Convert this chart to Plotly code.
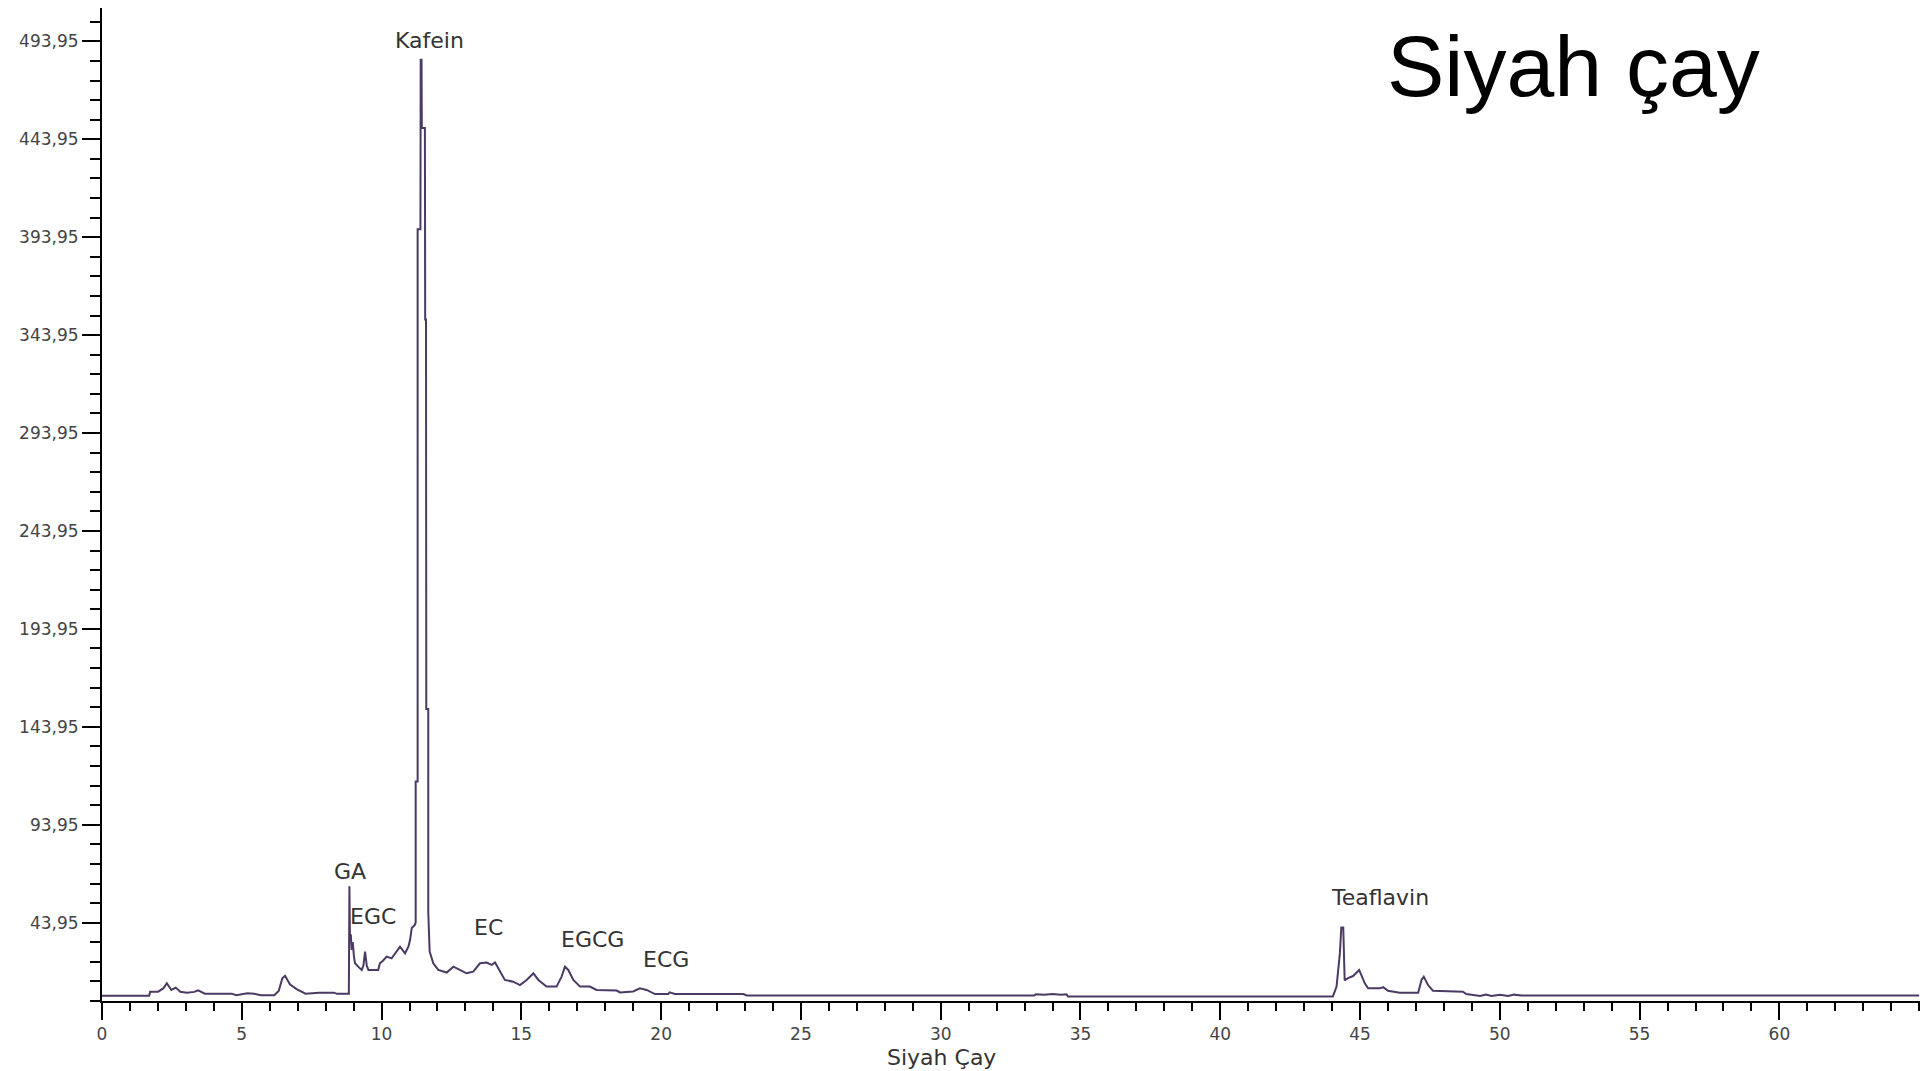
import plotly.graph_objects as go

# Retention time (min) and detector response
time_min = [
    0.0, 1.69, 1.72, 2.01, 2.20, 2.32, 2.48, 2.64, 2.80, 3.04, 3.30, 3.44, 3.68, 4.64, 4.80,
    5.05, 5.20, 5.44, 5.68, 6.16, 6.32, 6.45, 6.55, 6.72, 6.96, 7.28, 7.50, 7.76, 8.30, 8.40,
    8.83, 8.85, 8.87, 8.90, 8.93, 8.97, 9.01, 9.05, 9.20, 9.29, 9.35, 9.41, 9.47, 9.53, 9.88,
    9.94, 10.05, 10.18, 10.36, 10.50, 10.66, 10.84, 10.96, 11.02, 11.08, 11.19, 11.22, 11.22,
    11.29, 11.29, 11.39, 11.40, 11.43, 11.44, 11.55, 11.56, 11.59, 11.60, 11.67, 11.67, 11.69,
    11.72, 11.85, 12.03, 12.33, 12.57, 12.80, 13.04, 13.28, 13.52, 13.76, 13.94, 14.06, 14.23,
    14.41, 14.71, 14.95, 15.19, 15.43, 15.61, 15.90, 16.26, 16.44, 16.56, 16.68, 16.86, 17.10,
    17.45, 17.69, 18.41, 18.53, 19.00, 19.24, 19.48, 19.78, 20.25, 20.31, 20.49, 22.94, 23.06,
    33.35, 33.40, 33.70, 34.00, 34.30, 34.50, 34.55, 44.03, 44.16, 44.28, 44.33, 44.40, 44.45,
    44.57, 44.75, 44.97, 45.17, 45.29, 45.70, 45.83, 46.00, 46.42, 47.08, 47.20, 47.28, 47.43,
    47.61, 48.68, 48.80, 49.30, 49.50, 49.70, 50.00, 50.30, 50.50, 50.77, 65.0,
]
response = [
    6.6, 6.6, 8.7, 8.7, 10.5, 13.0, 9.6, 10.8, 8.7, 8.2, 8.6, 9.4, 7.7, 7.7, 6.9,
    7.3, 7.9, 7.7, 6.9, 6.9, 9.1, 15.5, 16.8, 12.5, 10.0, 7.7, 7.9, 8.2, 8.2, 7.6,
    7.6, 62.5, 35.2, 38.0, 30.0, 34.0, 27.0, 23.2, 21.0, 19.8, 22.0, 29.2, 22.0, 19.8, 19.8,
    23.2, 24.5, 26.6, 25.7, 28.5, 31.7, 28.3, 31.7, 35.2, 41.2, 42.8, 44.0, 116.0,
    116.0, 398.0, 398.0, 484.6, 484.6, 449.7, 449.7, 352.0, 352.0, 153.0, 153.0, 49.6, 40.0,
    29.2, 23.2, 19.8, 18.5, 21.5, 19.8, 18.1, 18.9, 23.2, 23.6, 22.4, 23.6, 18.9,
    14.7, 13.8, 12.1, 14.7, 18.1, 14.7, 11.3, 11.3, 16.4, 21.5, 19.8, 14.7, 11.3,
    11.3, 9.6, 9.3, 8.3, 8.8, 10.4, 9.6, 7.5, 7.5, 8.4, 7.5, 7.5, 6.8,
    6.8, 7.4, 7.1, 7.5, 7.1, 7.4, 6.3, 6.3, 11.3, 28.5, 41.5, 41.5, 14.5,
    15.6, 16.7, 19.8, 13.0, 10.4, 10.4, 11.0, 9.2, 8.2, 8.2, 14.7, 16.4, 12.1,
    9.2, 8.7, 7.5, 6.5, 7.3, 6.5, 7.2, 6.5, 7.2, 6.7, 6.7,
]

# Peak labels and their label anchor positions (time, response)
peak_names = ["GA", "EGC", "Kafein", "EC", "EGCG", "ECG", "Teaflavin"]
peak_label_t = [8.87, 9.69, 11.73, 13.84, 17.56, 20.17, 45.71]
peak_label_v = [70.0, 46.9, 494.5, 41.3, 35.2, 24.9, 56.7]

x_tick_vals = [0, 5, 10, 15, 20, 25, 30, 35, 40, 45, 50, 55, 60]
y_tick_vals = [43.95, 93.95, 143.95, 193.95, 243.95, 293.95, 343.95, 393.95, 443.95, 493.95]

title_text = "Siyah çay"
x_title_text = "Siyah Çay"

fig = go.Figure()
fig.add_trace(go.Scatter(
    x=time_min, y=response, mode="lines",
    line=dict(color="#4b3a63", width=2),
    hoverinfo="x+y", showlegend=False,
))

tick_font = dict(family="DejaVu Sans", size=17, color="#444444")

fig.update_layout(
    width=1920, height=1071,
    margin=dict(l=102, r=0, t=8, b=70, pad=0),
    paper_bgcolor="white", plot_bgcolor="white",
    separators=", ",
    showlegend=False,
    xaxis=dict(
        range=[0, 65.03], showgrid=False, zeroline=False,
        showline=True, linecolor="black", linewidth=2,
        ticks="outside", ticklen=17, tickwidth=2, tickcolor="black",
        tickmode="array", tickvals=x_tick_vals,
        tickfont=tick_font,
        minor=dict(ticks="outside", ticklen=8, tickwidth=2, tickcolor="black",
                   tickmode="linear", tick0=0, dtick=1, showgrid=False),
    ),
    yaxis=dict(
        range=[3.95, 511], showgrid=False, zeroline=False,
        showline=True, linecolor="black", linewidth=2,
        ticks="outside", ticklen=18, tickwidth=2, tickcolor="black",
        tickmode="array", tickvals=y_tick_vals, tickformat=".2f",
        tickfont=tick_font,
        minor=dict(ticks="outside", ticklen=10, tickwidth=2, tickcolor="black",
                   tickmode="linear", tick0=3.95, dtick=10, showgrid=False),
    ),
)

for name, t, v in zip(peak_names, peak_label_t, peak_label_v):
    fig.add_annotation(
        x=t, y=v, xref="x", yref="y", text=name, showarrow=False,
        xanchor="center", yanchor="middle",
        font=dict(family="DejaVu Sans", size=22, color="#333333"),
    )

fig.add_annotation(
    x=0.4615, y=-0.057, xref="paper", yref="paper", text=x_title_text,
    showarrow=False, xanchor="center", yanchor="middle",
    font=dict(family="DejaVu Sans", size=22, color="#333333"),
)

fig.add_annotation(
    x=0.7057, y=0.942, xref="paper", yref="paper", text=title_text,
    showarrow=False, xanchor="left", yanchor="middle",
    font=dict(family="Liberation Sans", size=86, color="black"),
)

# Remove the browser's default page margin so the figure fills the window exactly.
fig.write_html(
    "out.html",
    config={"displayModeBar": False},
    post_script="document.body.style.margin='0';document.body.style.overflow='hidden';",
)
